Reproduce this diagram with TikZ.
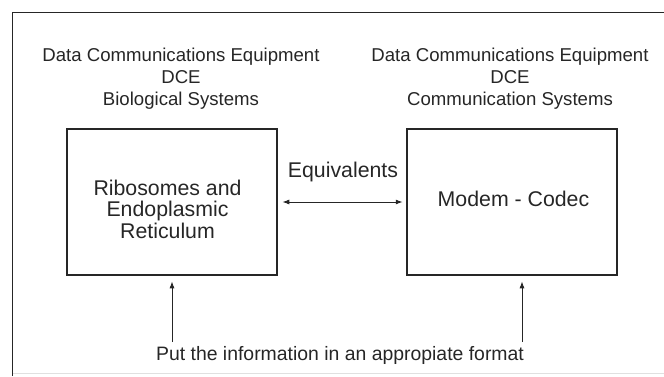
\documentclass[tikz,border=0pt]{standalone}
\usepackage{fontspec}
\setmainfont{Liberation Sans}
\usetikzlibrary{arrows.meta}
\definecolor{ink}{HTML}{262626}
\tikzset{
  lbl/.style={inner sep=0pt, anchor=base, text=ink},
  hdr/.style={lbl, font=\fontsize{18.6}{22}\selectfont},
  boxtxt/.style={lbl, font=\fontsize{21.3}{25}\selectfont},
  btm/.style={lbl, font=\fontsize{19.4}{23}\selectfont},
  blk/.style={draw=ink, line width=1.5pt, inner sep=0pt, minimum width=210pt, minimum height=146pt},
  arr/.style={draw=ink, line width=1pt, -{Latex[length=7pt,width=5pt]}},
  darr/.style={draw=ink, line width=1pt, {Latex[length=7pt,width=5pt]}-{Latex[length=7pt,width=5pt]}}
}
\begin{document}
\begin{tikzpicture}[x=1pt,y=-1pt]
\useasboundingbox (0,0) rectangle (664,376);
% frame
\draw[draw=ink, line width=1.5pt] (12.5,376) -- (12.5,12.5) -- (664,12.5);
\draw[draw=black!12, line width=1pt] (13,373) -- (664,373);
% headers
\node[hdr] (h1a) at (181,61) {Data Communications Equipment};
\node[hdr] (h1b) at (181,83) {DCE};
\node[hdr] (h1c) at (181,105) {Biological Systems};
\node[hdr] (h2a) at (510,61) {Data Communications Equipment};
\node[hdr] (h2b) at (510,83) {DCE};
\node[hdr] (h2c) at (510,105) {Communication Systems};
% boxes
\node[blk] (L) at (172,202) {};
\node[blk] (R) at (512,202) {};
\node[boxtxt] (l1) at (167.5,195) {Ribosomes and};
\node[boxtxt] (l2) at (167.5,216.5) {Endoplasmic};
\node[boxtxt] (l3) at (167.5,238) {Reticulum};
\node[boxtxt] (r1) at (513.5,206) {Modem - Codec};
\node[boxtxt] (eq) at (343,177) {Equivalents};
% bottom
\node[btm] (bt) at (340,360.7) {Put the information in an appropiate format};
\coordinate (a1) at (172,342);
\coordinate (a2) at (522,342);
% connectors
\draw[darr, shorten <=4.5pt, shorten >=3.5pt] (L.east) -- (R.west);
\draw[arr, shorten >=5.5pt] (a1) -- (a1 |- L.south);
\draw[arr, shorten >=5.5pt] (a2) -- (a2 |- R.south);
\end{tikzpicture}
\end{document}
